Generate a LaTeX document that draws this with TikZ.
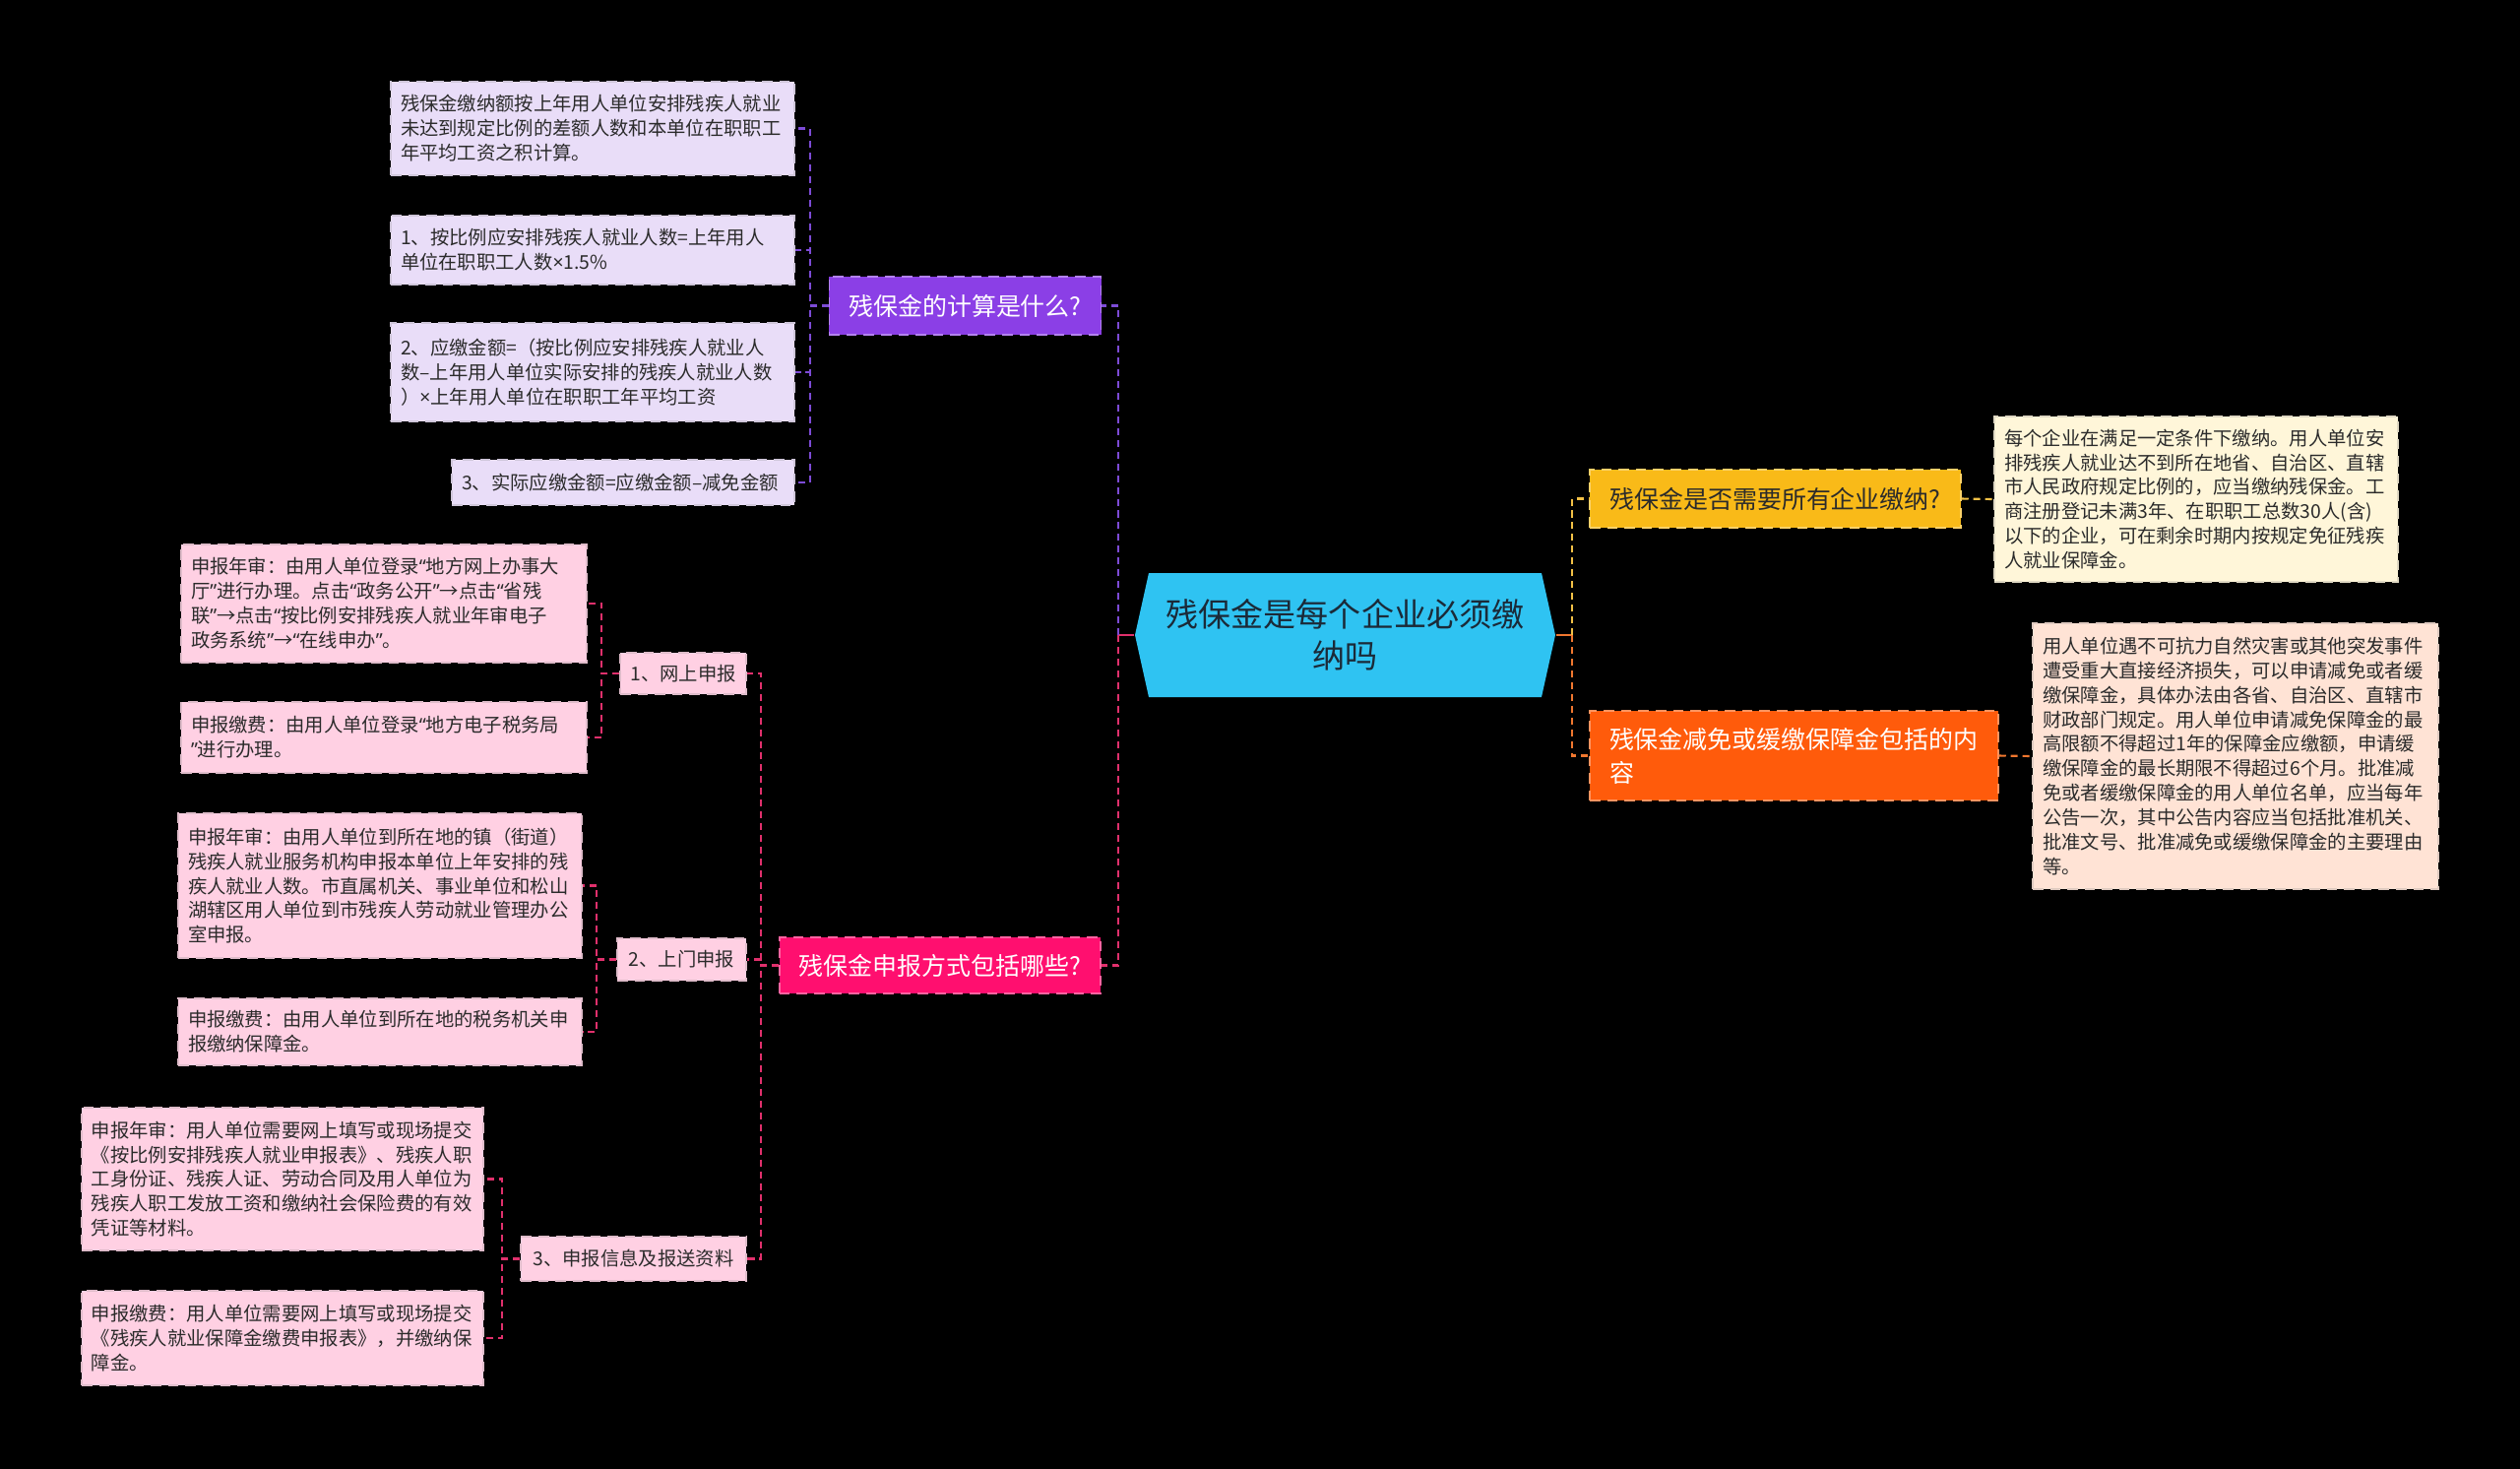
\documentclass[tikz,border=0pt]{standalone}
\usepackage{fontspec}
\setmainfont{Noto Sans CJK SC}
\newfontfamily\cblatin{Noto Sans}
\usepackage{xcolor}
\usepackage{tikz}
\usetikzlibrary{calc}
\definecolor{rootBlue}{HTML}{2FC3F2}
\definecolor{rootInk}{HTML}{1B2A38}
\definecolor{leafInk}{HTML}{2B2B2B}
\definecolor{calcPurple}{HTML}{8B3FE6}
\definecolor{calcLeaf}{HTML}{E9DDF8}
\definecolor{calcLine}{HTML}{7D4BD6}
\definecolor{reportPink}{HTML}{FF0F6F}
\definecolor{reportLeaf}{HTML}{FFD0E3}
\definecolor{reportLine}{HTML}{E0306C}
\definecolor{needAmber}{HTML}{F9BA18}
\definecolor{needLeaf}{HTML}{FFF6D9}
\definecolor{needLine}{HTML}{F2C046}
\definecolor{reliefOrange}{HTML}{FF5B0B}
\definecolor{reliefLeaf}{HTML}{FFE3D5}
\definecolor{reliefLine}{HTML}{F0772F}
\newcommand{\lqt}{{\cblatin “}}
\newcommand{\rqt}{{\cblatin ”}}
\tikzset{
  cbroot/.style={rectangle, fill=black, minimum width=4.27cm, minimum height=1.26cm, inner sep=0pt,
                 align=center, text=rootInk, font=\fontsize{9.4pt}{12pt}\selectfont,
                 path picture={\fill[rootBlue] (path picture bounding box.west)
                   -- ([xshift=0.14cm]path picture bounding box.north west)
                   -- ([xshift=-0.14cm]path picture bounding box.north east)
                   -- (path picture bounding box.east)
                   -- ([xshift=-0.14cm]path picture bounding box.south east)
                   -- ([xshift=0.14cm]path picture bounding box.south west) -- cycle;}},
  cbbranch/.style={rectangle, draw=white!35!#1, fill=#1, densely dashed, line width=0.4pt,
                   inner xsep=0.2cm, inner ysep=0pt, font=\fontsize{7.1pt}{9.7pt}\selectfont},
  cbleaf/.style={rectangle, draw=#1!75!gray, fill=#1, densely dashed, line width=0.4pt, align=left,
                 inner xsep=0.1cm, inner ysep=0pt, text=leafInk, font=\fontsize{5.5pt}{7.1pt}\selectfont},
  cblink/.style={line width=0.6pt, dash pattern=on 2pt off 1.4pt},
  cbstub/.style={line width=0.7pt},
}
\begin{document}
\begin{tikzpicture}
    \useasboundingbox (0,0) rectangle (25.6,-14.91);
    \fill[black] (-0.05,0.05) rectangle (25.65,-14.96);
    % centre
    \node[cbroot] (root) at (13.665,-6.45) {残保金是每个企业必须缴\\纳吗};
    \coordinate (rootL) at (11.36,-6.45);
    \coordinate (rootR) at (15.97,-6.45);
    % left branches
    \node[cbbranch=calcPurple, text=white, minimum width=2.75cm, minimum height=0.59cm] (calc) at (9.805,-3.105) {残保金的计算是什么?};
    \node[cbbranch=reportPink, text=white, minimum width=3.26cm, minimum height=0.57cm] (report) at (9.55,-9.805) {残保金申报方式包括哪些?};
    % right branches
    \node[cbbranch=needAmber, text=leafInk, minimum width=3.77cm, minimum height=0.59cm] (need) at (18.035,-5.065) {残保金是否需要所有企业缴纳?};
    \node[cbbranch=reliefOrange, text=white, align=left, text width=3.75cm, minimum height=0.91cm] (relief) at (18.225,-7.675) {残保金减免或缓缴保障金包括的内\\容};
    % calculation leaves
    \node[cbleaf=calcLeaf, text width=3.9cm, minimum height=0.95cm] (c1) at (6.02,-1.305) {残保金缴纳额按上年用人单位安排残疾人就业\\未达到规定比例的差额人数和本单位在职职工\\年平均工资之积计算。};
    \node[cbleaf=calcLeaf, text width=3.9cm, minimum height=0.70cm] (c2) at (6.02,-2.54) {1、按比例应安排残疾人就业人数=上年用人\\单位在职职工人数{\cblatin ×}1.5\%};
    \node[cbleaf=calcLeaf, text width=3.9cm, minimum height=1.00cm] (c3) at (6.02,-3.78) {2、应缴金额=（按比例应安排残疾人就业人\\数–上年用人单位实际安排的残疾人就业人数\\）{\cblatin ×}上年用人单位在职职工年平均工资};
    \node[cbleaf=calcLeaf, text width=3.28cm, minimum height=0.46cm] (c4) at (6.33,-4.90) {3、实际应缴金额=应缴金额–减免金额};
    % report ways
    \node[cbleaf=reportLeaf, align=center, minimum width=1.28cm, minimum height=0.42cm] (w1) at (6.94,-6.84) {1、网上申报};
    \node[cbleaf=reportLeaf, align=center, minimum width=1.31cm, minimum height=0.43cm] (w2) at (6.925,-9.745) {2、上门申报};
    \node[cbleaf=reportLeaf, align=center, minimum width=2.29cm, minimum height=0.45cm] (w3) at (6.435,-12.785) {3、申报信息及报送资料};
    \node[cbleaf=reportLeaf, text width=3.92cm, minimum height=1.20cm] (w1a) at (3.90,-6.13) {申报年审：由用人单位登录\lqt 地方网上办事大\\厅\rqt 进行办理。点击\lqt 政务公开\rqt →点击\lqt 省残\\联\rqt →点击\lqt 按比例安排残疾人就业年审电子\\政务系统\rqt →\lqt 在线申办\rqt 。};
    \node[cbleaf=reportLeaf, text width=3.92cm, minimum height=0.72cm] (w1b) at (3.90,-7.49) {申报缴费：由用人单位登录\lqt 地方电子税务局\\\rqt 进行办理。};
    \node[cbleaf=reportLeaf, text width=3.9cm, minimum height=1.47cm] (w2a) at (3.86,-8.995) {申报年审：由用人单位到所在地的镇（街道）\\残疾人就业服务机构申报本单位上年安排的残\\疾人就业人数。市直属机关、事业单位和松山\\湖辖区用人单位到市残疾人劳动就业管理办公\\室申报。};
    \node[cbleaf=reportLeaf, text width=3.9cm, minimum height=0.68cm] (w2b) at (3.86,-10.48) {申报缴费：由用人单位到所在地的税务机关申\\报缴纳保障金。};
    \node[cbleaf=reportLeaf, text width=3.88cm, minimum height=1.45cm] (w3a) at (2.87,-11.975) {申报年审：用人单位需要网上填写或现场提交\\《按比例安排残疾人就业申报表》、残疾人职\\工身份证、残疾人证、劳动合同及用人单位为\\残疾人职工发放工资和缴纳社会保险费的有效\\凭证等材料。};
    \node[cbleaf=reportLeaf, text width=3.88cm, minimum height=0.96cm] (w3b) at (2.87,-13.59) {申报缴费：用人单位需要网上填写或现场提交\\《残疾人就业保障金缴费申报表》，并缴纳保\\障金。};
    % right leaves
    \node[cbleaf=needLeaf, text width=3.9cm, minimum height=1.68cm] (needtxt) at (22.31,-5.07) {每个企业在满足一定条件下缴纳。用人单位安\\排残疾人就业达不到所在地省、自治区、直辖\\市人民政府规定比例的，应当缴纳残保金。工\\商注册登记未满3年、在职职工总数30人(含)\\以下的企业，可在剩余时期内按规定免征残疾\\人就业保障金。};
    \node[cbleaf=reliefLeaf, text width=3.92cm, minimum height=2.70cm] (relieftxt) at (22.71,-7.68) {用人单位遇不可抗力自然灾害或其他突发事件\\遭受重大直接经济损失，可以申请减免或者缓\\缴保障金，具体办法由各省、自治区、直辖市\\财政部门规定。用人单位申请减免保障金的最\\高限额不得超过1年的保障金应缴额，申请缓\\缴保障金的最长期限不得超过6个月。批准减\\免或者缓缴保障金的用人单位名单，应当每年\\公告一次，其中公告内容应当包括批准机关、\\批准文号、批准减免或缓缴保障金的主要理由\\等。};
    % connectors
    \draw[cbstub, draw=reportLine] (root.west) -- (rootL);
    \draw[cblink, draw=calcLine] (rootL) |- (calc.east);
    \draw[cblink, draw=reportLine] (rootL) |- (report.east);
    \draw[cbstub, draw=reliefLine] (root.east) -- (rootR);
    \draw[cblink, draw=needLine] (rootR) |- (need.west);
    \draw[cblink, draw=reliefLine] (rootR) |- (relief.west);
    \draw[cblink, draw=calcLine] (calc.west) -- ++(-0.19,0) |- (c1.east);
    \draw[cblink, draw=calcLine] (calc.west) -- ++(-0.19,0) |- (c2.east);
    \draw[cblink, draw=calcLine] (calc.west) -- ++(-0.19,0) |- (c3.east);
    \draw[cblink, draw=calcLine] (calc.west) -- ++(-0.19,0) |- (c4.east);
    \draw[cblink, draw=reportLine] (report.west) -- ++(-0.18,0) |- (w1.east);
    \draw[cblink, draw=reportLine] (report.west) -- ++(-0.18,0) |- (w2.east);
    \draw[cblink, draw=reportLine] (report.west) -- ++(-0.18,0) |- (w3.east);
    \draw[cblink, draw=reportLine] (w1.west) -- ++(-0.18,0) |- (w1a.east);
    \draw[cblink, draw=reportLine] (w1.west) -- ++(-0.18,0) |- (w1b.east);
    \draw[cblink, draw=reportLine] (w2.west) -- ++(-0.20,0) |- (w2a.east);
    \draw[cblink, draw=reportLine] (w2.west) -- ++(-0.20,0) |- (w2b.east);
    \draw[cblink, draw=reportLine] (w3.west) -- ++(-0.18,0) |- (w3a.east);
    \draw[cblink, draw=reportLine] (w3.west) -- ++(-0.18,0) |- (w3b.east);
    \draw[cblink, draw=needLine] (need.east) -- (needtxt.west);
    \draw[cblink, draw=reliefLine] (relief.east) -- (relieftxt.west);
\end{tikzpicture}
\end{document}
